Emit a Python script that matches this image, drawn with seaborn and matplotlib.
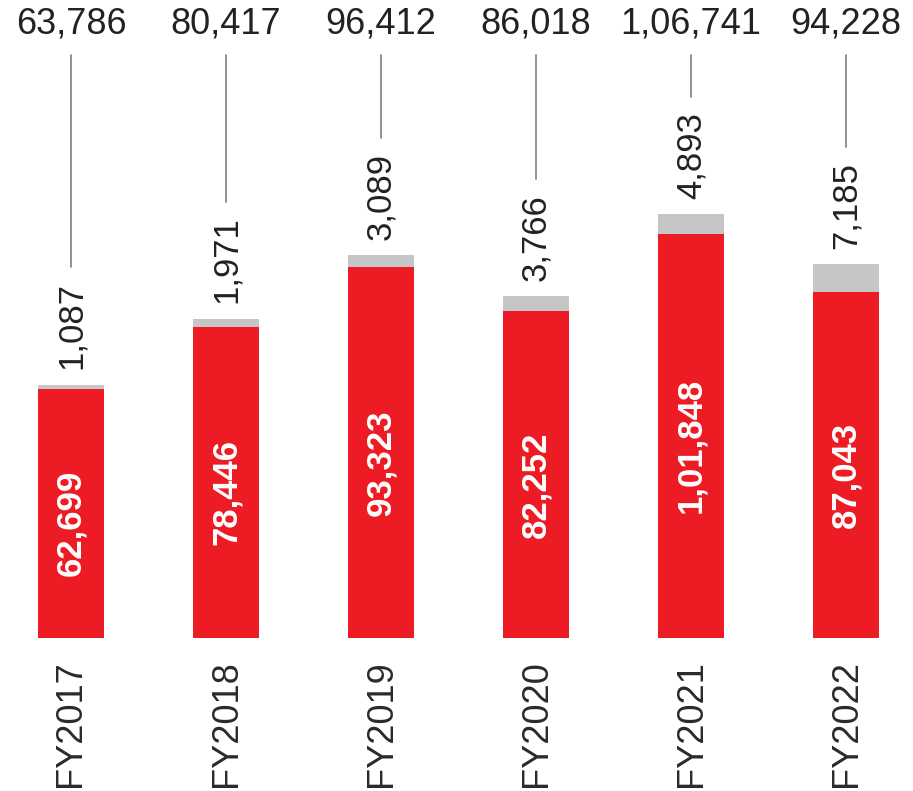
import numpy as np
import pandas as pd
import seaborn as sns
import matplotlib
matplotlib.use("Agg")
import matplotlib.pyplot as plt
from matplotlib.transforms import blended_transform_factory

years = ["FY2017", "FY2018", "FY2019", "FY2020", "FY2021", "FY2022"]
red_vals = [62699, 78446, 93323, 82252, 101848, 87043]
grey_vals = [1087, 1971, 3089, 3766, 4893, 7185]
red_labels = ["62,699", "78,446", "93,323", "82,252", "1,01,848", "87,043"]
grey_labels = ["1,087", "1,971", "3,089", "3,766", "4,893", "7,185"]
total_labels = ["63,786", "80,417", "96,412", "86,018", "1,06,741", "94,228"]

RED = "#ED1C24"
GREY = "#C6C6C8"
TXT = "#222222"

sns.set_style("white")
plt.rcParams["font.family"] = ["Liberation Sans", "DejaVu Sans"]

df = pd.DataFrame({"year": years, "red": red_vals, "grey": grey_vals})
df["total"] = df["red"] + df["grey"]

W, H = 913, 791
fig = plt.figure(figsize=(W / 100, H / 100), dpi=100)
ax = fig.add_axes([0, 153 / H, 1, 638 / H])

sns.barplot(data=df, x="year", y="total", color=GREY, width=0.42, saturation=1,
            errorbar=None, linewidth=0, ax=ax)
sns.barplot(data=df, x="year", y="red", color=RED, width=0.42, saturation=1,
            errorbar=None, linewidth=0, ax=ax)

ax.set_xlim(-0.458, 5.432)
ax.set_ylim(0, 160700)
ax.set_xlabel("")
ax.set_ylabel("")
ax.set_yticks([])
for s in ax.spines.values():
    s.set_visible(False)
ax.tick_params(axis="x", length=0, pad=16, labelsize=26, labelrotation=90,
               labelcolor="#2a2a2a")

# red segment labels
for i, (v, lab) in enumerate(zip(df["red"], red_labels)):
    ax.annotate(lab, (i, v / 2), xytext=(0, -7), textcoords="offset points",
                rotation=90, ha="center", va="center", color="white",
                fontsize=25, fontweight="bold")

# grey segment labels
grey_texts = []
for i, (t, lab) in enumerate(zip(df["total"], grey_labels)):
    txt = ax.annotate(lab, (i, t), xytext=(0, 11), textcoords="offset points",
                      rotation=90, ha="center", va="bottom", color=TXT,
                      fontsize=25)
    grey_texts.append(txt)

# totals at the top
trans = blended_transform_factory(ax.transData, ax.transAxes)
for i, lab in enumerate(total_labels):
    ax.text(i, 0.9625, lab, transform=trans, ha="center", va="center",
            fontsize=26, color=TXT)

# leader lines
fig.canvas.draw()
inv = ax.transData.inverted()
top_disp = H - 55
for i, txt in enumerate(grey_texts):
    bb = txt.get_window_extent()
    y0 = inv.transform((0, bb.y1 + 15))[1]
    y1 = inv.transform((0, top_disp))[1]
    ax.plot([i, i], [y0, y1], color="#8a8a8a", lw=1.3, clip_on=False)

fig.savefig("out.png", dpi=100)
